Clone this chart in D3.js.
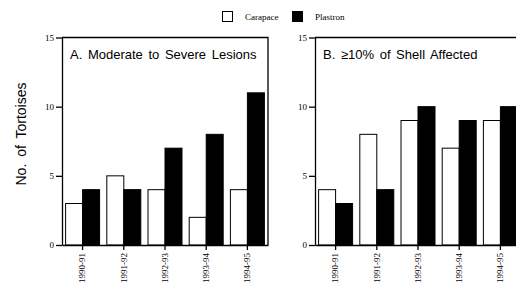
<!DOCTYPE html>
<html>
<head>
<meta charset="utf-8">
<script src="https://cdn.jsdelivr.net/npm/d3@7"></script>
<style>
  body { margin: 0; background: #fff; }
  svg { display: block; }
  .tick text { font-family: "Liberation Serif", "Times New Roman", serif; font-size: 9px; fill: #000; }
</style>
</head>
<body>
<div id="chart"></div>
<script>
var seasons = ["1990-91", "1991-92", "1992-93", "1993-94", "1994-95"];
var series = ["Carapace", "Plastron"];
var carapaceA = [3, 5, 4, 2, 4];
var plastronA = [4, 4, 7, 8, 11];
var carapaceB = [4, 8, 9, 7, 9];
var plastronB = [3, 4, 10, 9, 10];
var yTicks = [0, 5, 10, 15];

var width = 516, height = 290;
var svg = d3.select("#chart").append("svg")
    .attr("width", width)
    .attr("height", height);

// one panel: axes, frame, bars, title
var panel = function(left, title, carapace, plastron) {
    var rows = seasons.map(function(s, i) {
        return { season: s, values: [carapace[i], plastron[i]] };
    });

    var x = d3.scaleBand()
        .domain(seasons)
        .range([left, left + 206])
        .paddingInner(0.175)
        .paddingOuter(0.0875);
    var xs = d3.scaleBand()
        .domain(series)
        .range([0, x.bandwidth()]);
    var y = d3.scaleLinear()
        .domain([0, 15])
        .range([245, 37.5]);

    var g = svg.append("g");

    g.selectAll("g.grp")
        .data(rows)
        .enter().append("g")
            .attr("class", "grp")
            .attr("transform", function(d) { return "translate(" + x(d.season) + ",0)"; })
        .selectAll("rect")
        .data(function(d) { return d.values.map(function(v, k) { return { key: series[k], value: v }; }); })
        .enter().append("rect")
            .attr("x", function(d) { return xs(d.key); })
            .attr("y", function(d) { return y(d.value); })
            .attr("width", xs.bandwidth())
            .attr("height", function(d) { return y(0) - y(d.value); })
            .attr("fill", function(d) { return d.key == "Carapace" ? "#fff" : "#000"; })
            .attr("stroke", "#000")
            .attr("stroke-width", 1);

    // frame top and right
    g.append("path")
        .attr("d", "M" + left + "," + y(15) + "H" + (left + 206) + "V" + y(0))
        .attr("fill", "none")
        .attr("stroke", "#000")
        .attr("stroke-width", 1.3);

    var ya = g.append("g")
        .attr("transform", "translate(" + left + ",0)")
        .call(d3.axisLeft(y).tickValues(yTicks).tickSize(6).tickSizeOuter(0).tickPadding(2));
    ya.selectAll("text").attr("dy", "0.3em");

    var xa = g.append("g")
        .attr("transform", "translate(0," + y(0) + ")")
        .call(d3.axisBottom(x).tickSize(5).tickSizeOuter(0));
    xa.selectAll("text")
        .attr("transform", "rotate(-90)")
        .attr("text-anchor", "end")
        .attr("x", -8)
        .attr("y", 0)
        .attr("dy", "0.32em");

    g.selectAll(".domain, .tick line").attr("stroke-width", 1.3);

    g.append("text")
        .attr("x", left + 8)
        .attr("y", 59)
        .attr("font-family", "Liberation Sans, Arial, sans-serif")
        .attr("font-size", 13)
        .attr("word-spacing", 2)
        .text(title);
};

panel(62, "A. Moderate to Severe Lesions", carapaceA, plastronA);
panel(315, "B. \u226510% of Shell Affected", carapaceB, plastronB);

// y title
svg.append("text")
    .attr("transform", "translate(26,134) rotate(-90)")
    .attr("text-anchor", "middle")
    .attr("font-family", "Liberation Sans, Arial, sans-serif")
    .attr("font-size", 14)
    .attr("word-spacing", 3)
    .text("No. of Tortoises");

// legend
var legend = svg.append("g").attr("transform", "translate(222,11)");
var lx = [0, 70];
series.forEach(function(s, k) {
    legend.append("rect")
        .attr("x", lx[k] + 0.5)
        .attr("y", 0.5)
        .attr("width", 10)
        .attr("height", 10)
        .attr("fill", k == 0 ? "#fff" : "#000")
        .attr("stroke", "#000")
        .attr("stroke-width", 1);
    legend.append("text")
        .attr("x", lx[k] + 23)
        .attr("y", 8.5)
        .attr("font-family", "Liberation Serif, Times New Roman, serif")
        .attr("font-size", 9)
        .text(s);
});
</script>
</body>
</html>
